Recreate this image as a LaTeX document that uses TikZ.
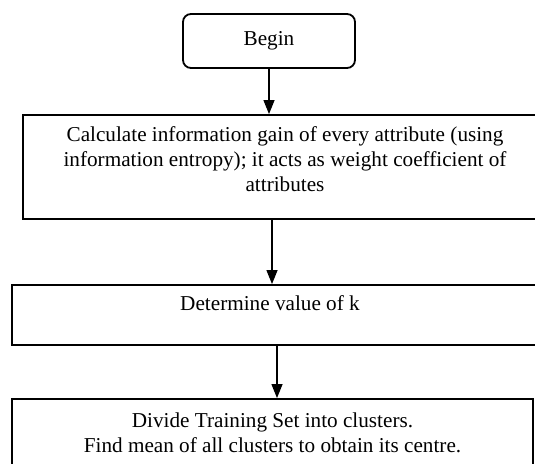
\documentclass[tikz,border=0pt]{standalone}
\usepackage{fontspec}
\setmainfont{Liberation Serif}
\usetikzlibrary{arrows.meta,positioning}
\newlength\px
\setlength\px{0.585pt}
\tikzset{
  fcstart/.style={draw, rounded corners=8\px, line width=1.8\px, minimum width=172\px,
                  minimum height=54\px, inner sep=0pt, font=\fontsize{12.4}{14.6}\selectfont},
  fcbox/.style={draw, line width=1.8\px, inner sep=0pt},
  fctext/.style={align=center, inner sep=0pt, font=\fontsize{12.4}{14.6}\selectfont},
  fcarr/.style={-{Triangle[length=8.2pt, width=6.4pt]}, line width=1.4\px}
}

\begin{document}
\begin{tikzpicture}[x=\px, y=-\px, node distance=6\px]
\useasboundingbox (0,0) rectangle (535,463);
\clip (0,0) rectangle (535,463);
% start
\node[fcstart] (n0) at (269,41) {Begin};
% boxes (text sits at the top, as in the original)
\node[fcbox, minimum width=524\px, minimum height=104\px] (n1) at (285,167) {};
\node[fctext, below=12\px of n1.north] (t1) {Calculate information gain of every attribute (using\\
  information entropy); it acts as weight coefficient of\\ attributes};
\node[fcbox, minimum width=535\px, minimum height=60\px] (n2) at (279.5,315) {};
\node[fctext, below=11\px of n2.north, xshift=-9.5\px] (t2) {Determine value of k};
\node[fcbox, minimum width=521\px, minimum height=82\px] (n3) at (272.5,440) {};
\node[fctext, below=14\px of n3.north] (t3) {Divide Training Set into clusters.\\
  Find mean of all clusters to obtain its centre.};
% arrows
\draw[fcarr] (n0.south) -- (n0.south |- n1.north);
\draw[fcarr] ([xshift=-13\px]n1.south) -- ([xshift=-13\px]n1.south |- n2.north);
\draw[fcarr] ([xshift=-2.5\px]n2.south) -- ([xshift=-2.5\px]n2.south |- n3.north);
\end{tikzpicture}
\end{document}
